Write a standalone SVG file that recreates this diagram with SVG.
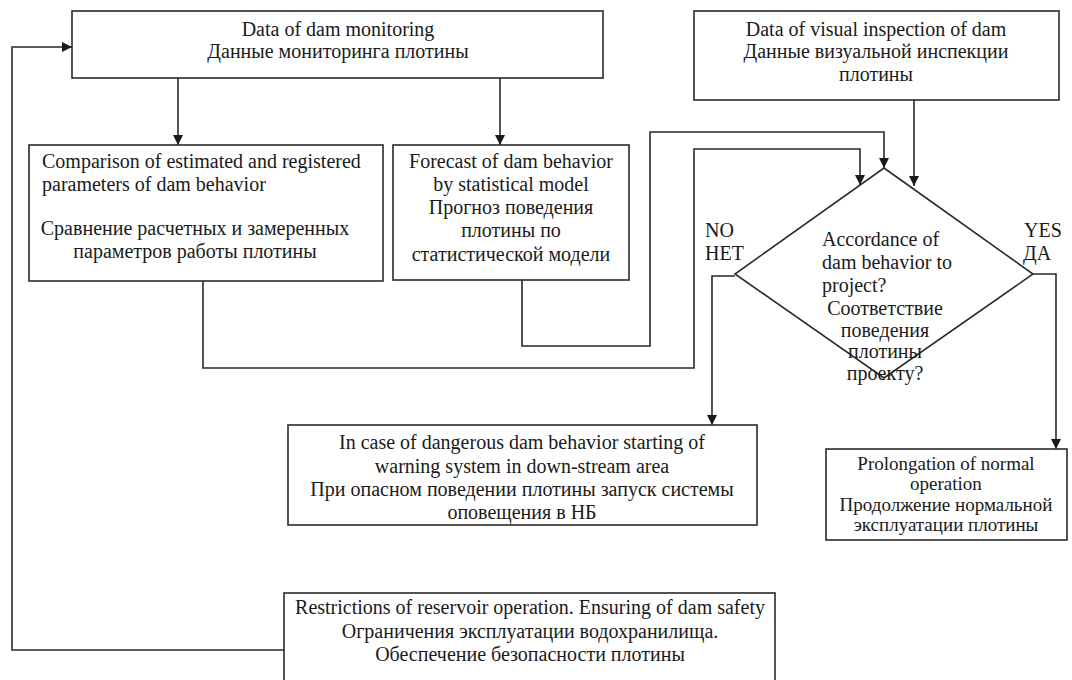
<svg xmlns="http://www.w3.org/2000/svg" width="1072" height="680" viewBox="0 0 1072 680" font-family="'Liberation Serif', 'Times New Roman', serif" font-size="20">
<defs>
<marker id="arr" viewBox="0 0 10 10" refX="10" refY="5" markerWidth="10" markerHeight="10" markerUnits="userSpaceOnUse" orient="auto">
<path d="M0,0 L10,5 L0,10 z" fill="#1a1a1a"/>
</marker>
<style>
.box{fill:#fff;stroke:#2a2a2a;stroke-width:1.6}
.ln{fill:none;stroke:#2a2a2a;stroke-width:1.6}
text{font-family:'Liberation Serif','Times New Roman',serif;font-size:20px;fill:#1a1a1a}
.c{text-anchor:middle}
.s{font-size:19px}
</style>
</defs>
<rect width="1072" height="680" fill="#fff"/>
<g id="connectors">
<polyline class="ln" points="178,78 178,145" marker-end="url(#arr)"/>
<polyline class="ln" points="500,78 500,145" marker-end="url(#arr)"/>
<polyline class="ln" points="522,280 522,346 650,346 650,132 884,132 884,168" marker-end="url(#arr)"/>
<polyline class="ln" points="203,281 203,368 694,368 694,149 860,149 860,185" marker-end="url(#arr)"/>
<polyline class="ln" points="914,100 914,186" marker-end="url(#arr)"/>
<polyline class="ln" points="735,276 712,276 712,425" marker-end="url(#arr)"/>
<polyline class="ln" points="1033,274 1056,274 1056,449" marker-end="url(#arr)"/>
<polyline class="ln" points="287,650 12,650 12,47 72,47" marker-end="url(#arr)"/>
</g>
<g id="n-monitoring">
<rect class="box" x="72" y="11" width="531" height="67"/>
<text class="c" x="338" y="36">Data of dam monitoring</text>
<text class="c" x="338" y="58">Данные мониторинга плотины</text>
</g>
<g id="n-inspection">
<rect class="box" x="694" y="11" width="365" height="89"/>
<text class="c" x="876" y="36">Data of visual inspection of dam</text>
<text class="c" x="876" y="58">Данные визуальной инспекции</text>
<text class="c" x="876" y="81">плотины</text>
</g>
<g id="n-comparison">
<rect class="box" x="29" y="145" width="354" height="136"/>
<text x="42" y="168">Comparison of estimated and registered</text>
<text x="42" y="191">parameters of dam behavior</text>
<text class="c" x="195" y="235">Сравнение расчетных и замеренных</text>
<text class="c" x="195" y="258">параметров работы плотины</text>
</g>
<g id="n-forecast">
<rect class="box" x="393" y="145" width="236" height="135"/>
<text class="c" x="511" y="168">Forecast of dam behavior</text>
<text class="c" x="511" y="191">by statistical  model</text>
<text class="c" x="511" y="214">Прогноз поведения</text>
<text class="c" x="511" y="237">плотины по</text>
<text class="c" x="511" y="261">статистической модели</text>
</g>
<g id="n-decision">
<polygon class="box" points="884,168 1033,274 884,378 735,274"/>
<text x="822" y="246">Accordance of</text>
<text x="822" y="269">dam behavior to</text>
<text x="822" y="292">project?</text>
<text class="c" x="885" y="315">Соответствие</text>
<text class="c" x="885" y="337">поведения</text>
<text class="c" x="885" y="358">плотины</text>
<text class="c" x="885" y="380">проекту?</text>
<text x="705" y="237">NO</text>
<text x="705" y="260">НЕТ</text>
<text x="1024" y="237">YES</text>
<text x="1023" y="260">ДА</text>
</g>
<g id="n-warning">
<rect class="box" x="288" y="425" width="469" height="100"/>
<text class="c" x="522" y="449">In case of dangerous dam behavior starting of</text>
<text class="c" x="522" y="473">warning system in down-stream area</text>
<text class="c" x="522" y="496">При опасном поведении плотины запуск системы</text>
<text class="c" x="522" y="519">оповещения в НБ</text>
</g>
<g id="n-normal">
<rect class="box" x="826" y="449" width="241" height="91"/>
<text class="c s" x="946" y="470">Prolongation of normal</text>
<text class="c s" x="946" y="490">operation</text>
<text class="c s" x="946" y="511">Продолжение нормальной</text>
<text class="c s" x="946" y="531">эксплуатации  плотины</text>
</g>
<g id="n-restrictions">
<rect class="box" x="284" y="593" width="491" height="95"/>
<text class="c" x="530" y="614">Restrictions of reservoir operation. Ensuring of dam safety</text>
<text class="c" x="530" y="638">Ограничения эксплуатации водохранилища.</text>
<text class="c" x="530" y="661">Обеспечение безопасности плотины</text>
</g>
</svg>
